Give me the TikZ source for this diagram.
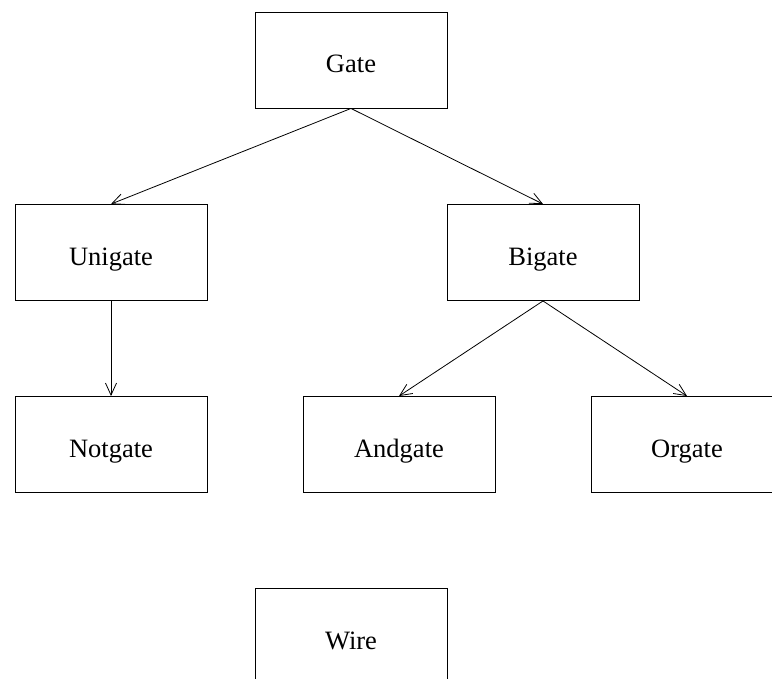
\documentclass[tikz,border=0pt]{standalone}
\usepackage{fontspec}
\setmainfont{Liberation Serif}
\usetikzlibrary{arrows.meta}
\begin{document}
\begin{tikzpicture}[x=1pt,y=-1pt,
  box/.style={draw,line width=0.9pt,rectangle,minimum width=192pt,minimum height=96pt,inner sep=0pt,text height=26pt,text depth=0.6pt,font=\fontsize{26.5}{30}\selectfont},
  link/.style={draw,line width=0.8pt,-{Straight Barb[length=12pt,width=11pt,line width=0.8pt]}}]
\useasboundingbox (0,0) rectangle (772,679);
\clip (0,0) rectangle (772,679);
\node[box] (gate) at (351,60) {Gate};
\node[box] (unigate) at (111,252.5) {Unigate};
\node[box] (bigate) at (543,252.5) {Bigate};
\node[box] (notgate) at (111,444.5) {Notgate};
\node[box] (andgate) at (399,444.5) {Andgate};
\node[box] (orgate) at (687,444.5) {Orgate};
\node[box] (wire) at (351,636.5) {Wire};
\draw[link] (gate.south) -- (unigate.north);
\draw[link] (gate.south) -- (bigate.north);
\draw[link] (unigate.south) -- (notgate.north);
\draw[link] (bigate.south) -- (andgate.north);
\draw[link] (bigate.south) -- (orgate.north);
\end{tikzpicture}
\end{document}
